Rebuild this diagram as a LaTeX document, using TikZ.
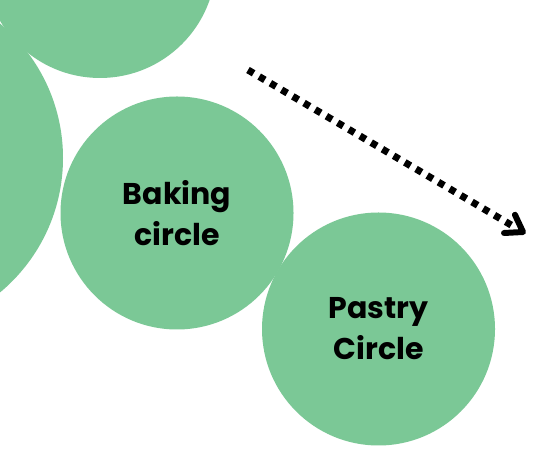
\documentclass[tikz,border=0pt]{standalone}
\usepackage{fontspec}
\setmainfont{Poppins}
\usetikzlibrary{calc}
\begin{document}
\begin{tikzpicture}[x=1pt,y=1pt,
  blob/.style={circle, fill=circgreen, draw=none, inner sep=0pt, align=center,
    font=\fontsize{30}{41}\selectfont\bfseries, text=black},
  dotline/.style={line width=7pt, dash pattern=on 6.5pt off 6.5pt, line cap=butt},
  chev/.style={line width=6pt, line cap=round, line join=round}]
\definecolor{circgreen}{RGB}{123,200,150}
\useasboundingbox (0,0) rectangle (534,462);
\fill[white] (0,0) rectangle (534,462);
\begin{scope}
\clip (0,0) rectangle (534,462);
\node[blob, minimum size=232pt] (top) at (100,500) {};
\node[blob, minimum size=350pt] (left) at (-112,304) {};
\end{scope}
\node[blob, minimum size=233pt] (baking) at (177,249) {Baking\\circle};
\node[blob, minimum size=233pt] (pastry) at (378.5,133) {Pastry\\Circle};
\coordinate (start) at (248,392);
\coordinate (tip) at (523,230);
\draw[dotline, shorten >=10pt] (start) -- (tip);
\draw[chev] ($(tip)+(115:19)$) -- (tip) -- ($(tip)+(183:19)$);
\end{tikzpicture}
\end{document}
